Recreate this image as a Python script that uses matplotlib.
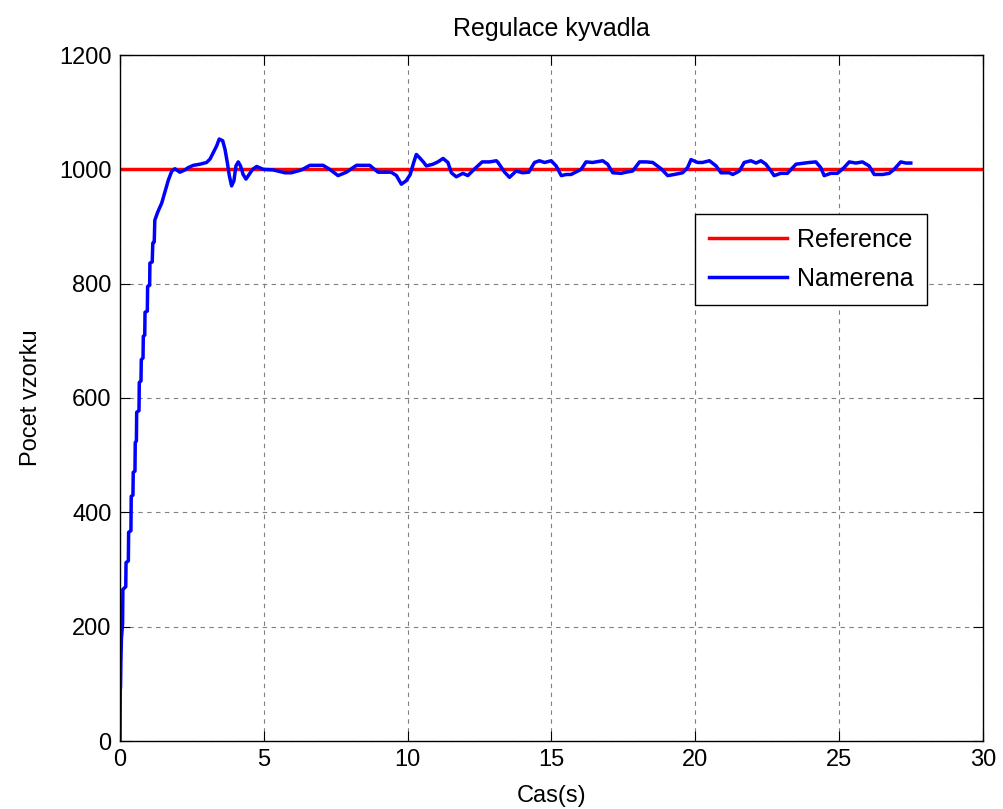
import matplotlib.pyplot as plt

plt.rcParams['font.family'] = ['Liberation Sans', 'DejaVu Sans']

# mereni - cas [s] a pocet vzorku
cas = [0.00, 0.01, 0.02, 0.03, 0.05, 0.09, 0.10, 0.20, 0.21, 0.29, 0.30,
       0.38, 0.39, 0.45, 0.46, 0.52, 0.53, 0.57, 0.58, 0.66, 0.67, 0.73,
       0.74, 0.80, 0.81, 0.86, 0.87, 0.95, 0.96, 1.03, 1.04, 1.12, 1.14,
       1.19, 1.21, 1.31, 1.45, 1.56, 1.68, 1.80, 1.91, 2.08, 2.26, 2.37,
       2.55, 2.78, 3.01, 3.13, 3.24, 3.36, 3.45, 3.57, 3.65, 3.73, 3.80,
       3.88, 3.96, 4.03, 4.11, 4.19, 4.28, 4.38, 4.49, 4.61, 4.75, 4.98,
       5.32, 5.73, 5.96, 6.31, 6.60, 7.06, 7.29, 7.58, 7.87, 8.22, 8.68,
       8.97, 9.43, 9.61, 9.78, 9.95, 10.09, 10.21, 10.30, 10.42, 10.56,
       10.65, 10.88, 11.05, 11.23, 11.40, 11.52, 11.69, 11.92, 12.09,
       12.33, 12.59, 12.85, 13.08, 13.14, 13.37, 13.54, 13.77, 14.00,
       14.21, 14.41, 14.58, 14.76, 14.99, 15.16, 15.34, 15.51, 15.68,
       16.03, 16.20, 16.43, 16.78, 16.95, 17.13, 17.42, 17.59, 17.82,
       18.06, 18.29, 18.52, 18.81, 19.04, 19.27, 19.56, 19.73, 19.85,
       20.08, 20.25, 20.49, 20.72, 20.89, 21.18, 21.30, 21.53, 21.70,
       21.93, 22.11, 22.28, 22.45, 22.63, 22.74, 22.97, 23.20, 23.50,
       23.96, 24.19, 24.36, 24.48, 24.71, 24.94, 25.17, 25.35, 25.58,
       25.81, 26.04, 26.22, 26.51, 26.74, 26.91, 27.14, 27.32, 27.49]
namerena = [0, 90, 95, 135, 180, 205, 265, 270, 312, 315, 365,
            368, 428, 430, 470, 472, 522, 525, 575, 578, 627, 630,
            667, 670, 708, 710, 750, 752, 795, 797, 836, 838, 871,
            873, 911, 925, 941, 960, 981, 997, 1001, 995, 999, 1003,
            1007, 1009, 1012, 1018, 1029, 1041, 1053, 1050, 1035, 1012, 989,
            971, 980, 1006, 1013, 1006, 991, 983, 991, 1000, 1005, 1000,
            999, 994, 994, 999, 1007, 1007, 1000, 989, 995, 1007, 1007,
            995, 995, 989, 974, 980, 991, 1012, 1026, 1020, 1012,
            1006, 1009, 1013, 1019, 1012, 994, 987, 993, 989,
            1001, 1013, 1013, 1015, 1012, 995, 986, 997, 994,
            995, 1012, 1015, 1012, 1015, 1006, 989, 991, 991,
            1000, 1013, 1012, 1015, 1009, 994, 993, 995, 997,
            1013, 1013, 1012, 1001, 989, 991, 994, 1003, 1017,
            1012, 1012, 1015, 1006, 994, 994, 991, 997, 1012,
            1015, 1011, 1015, 1009, 997, 989, 993, 993, 1009,
            1012, 1013, 1003, 989, 993, 993, 1003, 1013, 1011,
            1013, 1006, 991, 991, 993, 1000, 1013, 1011, 1011]
reference = 1000

fig = plt.figure(figsize=(10.04, 8.09), dpi=100)
ax = fig.add_axes([120 / 1004, 68 / 809, 863 / 1004, 686 / 809])

ax.axhline(reference, color='red', lw=2.5, label='Reference')
ax.plot(cas, namerena, color='blue', lw=2.5, label='Namerena')

ax.set_xlim(0, 30)
ax.set_ylim(0, 1200)
ax.set_xticks(range(0, 31, 5))
ax.set_yticks(range(0, 1201, 200))
ax.grid(True, color='#808080', linestyle=(0, (4, 4)), lw=0.8)
ax.tick_params(direction='in', top=True, right=True, length=7,
               labelsize=17, pad=6)
for s in ax.spines.values():
    s.set_linewidth(1.0)

ax.set_title('Regulace kyvadla', fontsize=18, pad=14)
ax.set_xlabel('Cas(s)', fontsize=17, labelpad=10)
ax.set_ylabel('Pocet vzorku', fontsize=17, labelpad=12)

leg = ax.legend(loc='upper right', bbox_to_anchor=(0.935, 0.768),
                fontsize=18, fancybox=False, edgecolor='black',
                handlelength=3.1, handletextpad=0.4, labelspacing=0.6,
                borderpad=0.55, borderaxespad=0, framealpha=1)
leg.get_frame().set_linewidth(1.0)

plt.savefig('out.png')
